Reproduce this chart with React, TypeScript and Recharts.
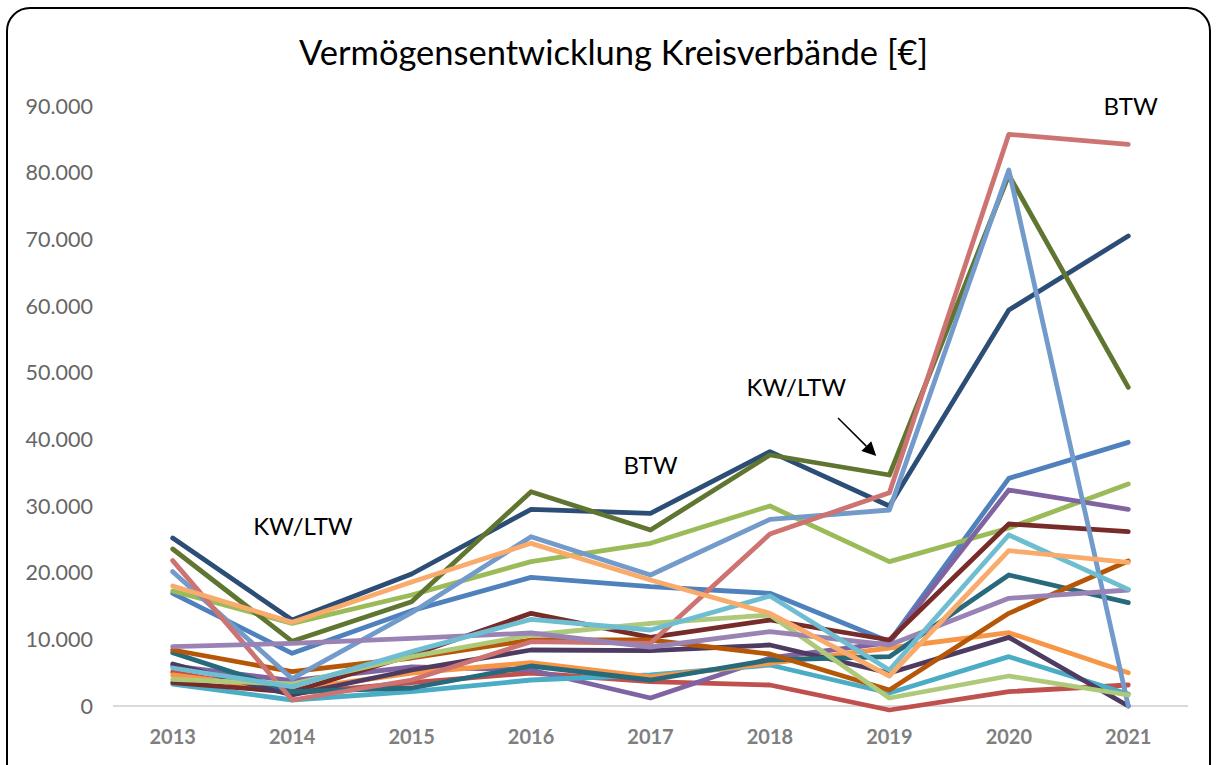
import React from "react";
import { LineChart, Line, XAxis, YAxis, ReferenceLine, ReferenceDot } from "recharts";

const years = [2013, 2014, 2015, 2016, 2017, 2018, 2019, 2020, 2021];
const yTicks = [0, 10000, 20000, 30000, 40000, 50000, 60000, 70000, 80000, 90000];

const s01 = [16900, 7900, 14300, 19300, 17900, 16900, 9650, 34150, 39550];
const s02 = [5100, 1900, 3500, 4950, 3650, 3150, -600, 2150, 3150];
const s03 = [17250, 12400, 16650, 21650, 24400, 30000, 21650, 26700, 33300];
const s04 = [6000, 3800, 5850, 5400, 1200, 7200, 9500, 32400, 29500];
const s05 = [3300, 900, 2150, 3900, 4650, 6150, 1950, 7400, 1800];
const s06 = [4650, 2400, 4950, 6500, 4350, 6400, 8700, 11000, 5000];
const s07 = [25200, 12900, 19800, 29500, 28900, 38150, 30000, 59400, 70500];
const s08 = [3500, 2100, 7650, 13900, 10300, 12900, 9900, 27300, 26150];
const s09 = [23550, 9700, 15650, 32150, 26400, 37650, 34650, 79650, 47800];
const s10 = [6300, 1650, 5400, 8400, 8300, 9150, 4950, 10300, 0];
const s11 = [8000, 2150, 2700, 6000, 3900, 6900, 7400, 19650, 15500];
const s12 = [8400, 5150, 7200, 9900, 9900, 7800, 2400, 13900, 21750];
const s13 = [20150, 4100, 14000, 25400, 19650, 28000, 29400, 80400, 0];
const s14 = [21800, 900, 3900, 9650, 9400, 25800, 32000, 85750, 84250];
const s15 = [4000, 3300, 7400, 10650, 12400, 13650, 1200, 4500, 1650];
const s16 = [8900, 9400, 10150, 10950, 8850, 11150, 9150, 16150, 17400];
const s17 = [5700, 2900, 8150, 13000, 11400, 16500, 5400, 25650, 17500];
const s18 = [18000, 12550, 18600, 24400, 18900, 13900, 4500, 23300, 21550];

const seriesValues = [s01, s02, s03, s04, s05, s06, s07, s08, s09, s10, s11, s12, s13, s14, s15, s16, s17, s18];
const seriesColors = [
  "#4F81BD", "#C0504D", "#9BBB59", "#8064A2", "#4BACC6", "#F79646",
  "#2C4D75", "#772C2A", "#5F7530", "#4D3B62", "#276A7C", "#B65708",
  "#729ACA", "#CD7371", "#AFC97A", "#9983B5", "#6FBDD1", "#F9AB6B",
];

const annotations = [
  { x: 2014.09, y: 27150, text: "KW/LTW" },
  { x: 2017.0, y: 36300, text: "BTW" },
  { x: 2018.22, y: 48000, text: "KW/LTW" },
  { x: 2021.02, y: 90150, text: "BTW" },
];
const arrowFrom = { x: 2018.57, y: 43200 };
const arrowTo = { x: 2018.89, y: 37500 };

const data = years.map((yr, i) => {
  const row: Record<string, number> = { year: yr };
  seriesValues.forEach((s, k) => {
    row["s" + k] = s[i];
  });
  return row;
});

const fmt = (v: number) => {
  if (v === 0) return "0";
  const s = String(Math.round(v));
  return s.replace(/\B(?=(\d{3})+(?!\d))/g, ".");
};

const FONT = "Lato, 'Open Sans', sans-serif";

const ArrowShape = (props: any) => {
  const { x1, y1, x2, y2 } = props;
  if ([x1, y1, x2, y2].some((v) => typeof v !== "number" || isNaN(v))) return null;
  const ang = Math.atan2(y2 - y1, x2 - x1);
  const L = 14;
  const W = 7;
  const bx = x2 - L * Math.cos(ang);
  const by = y2 - L * Math.sin(ang);
  const px = -Math.sin(ang) * W;
  const py = Math.cos(ang) * W;
  return (
    <g>
      <line x1={x1} y1={y1} x2={bx} y2={by} stroke="#000" strokeWidth={1.5} />
      <polygon points={`${x2},${y2} ${bx + px},${by + py} ${bx - px},${by - py}`} fill="#000" />
    </g>
  );
};

const AnnLabel = (text: string) => (props: any) => {
  const vb = props.viewBox || {};
  const cx = (vb.x ?? 0) + (vb.width ?? 0) / 2;
  const cy = (vb.y ?? 0) + (vb.height ?? 0) / 2;
  return (
    <text x={cx} y={cy} textAnchor="middle" dominantBaseline="central" fontFamily={FONT} fontSize={24} fill="#000">
      {text}
    </text>
  );
};

export default function App() {
  return (
    <div style={{ position: "absolute", left: 0, top: 0, width: 1217, height: 765, overflow: "hidden", background: "#fff" }}>
      <div
        style={{
          position: "absolute",
          left: 6,
          top: 7,
          width: 1205,
          height: 820,
          boxSizing: "border-box",
          border: "2px solid #000",
          borderRadius: 24,
        }}
      />
      <div
        style={{
          position: "absolute",
          left: 0,
          top: 32,
          width: 1227,
          textAlign: "center",
          fontFamily: FONT,
          fontSize: 34.5,
          color: "#000",
          lineHeight: "40px",
        }}
      >
        Vermögensentwicklung Kreisverbände [€]
      </div>
      <div style={{ position: "absolute", left: 0, top: 0 }}>
        <LineChart width={1217} height={765} data={data} margin={{ top: 106, right: 29, bottom: 19, left: 13 }}>
          <XAxis
            dataKey="year"
            type="number"
            domain={[2012.5, 2021.5]}
            ticks={years}
            axisLine={false}
            tickLine={false}
            tickSize={0}
            tickMargin={14}
            height={30}
            tick={{ fill: "#7f7f7f", fontSize: 20, fontWeight: 700, fontFamily: FONT }}
            allowDataOverflow
          />
          <YAxis
            type="number"
            domain={[-1500, 90000]}
            ticks={yTicks}
            interval={0}
            axisLine={false}
            tickLine={false}
            tickSize={0}
            tickMargin={20}
            width={100}
            tickFormatter={fmt}
            tick={{ fill: "#666666", fontSize: 21.5, fontFamily: FONT }}
            allowDataOverflow
          />
          <ReferenceLine y={0} stroke="#d9d9d9" strokeWidth={2} ifOverflow="extendDomain" />
          {seriesValues.map((_, k) => (
            <Line
              key={k}
              dataKey={"s" + k}
              stroke={seriesColors[k]}
              strokeWidth={4.8}
              strokeLinecap="round"
              strokeLinejoin="round"
              dot={false}
              activeDot={false}
              isAnimationActive={false}
            />
          ))}
          {annotations.map((a, i) => (
            <ReferenceDot key={i} x={a.x} y={a.y} r={0} fill="none" stroke="none" label={AnnLabel(a.text)} ifOverflow="visible" />
          ))}
          <ReferenceLine
            segment={[arrowFrom, arrowTo]}
            shape={ArrowShape}
            ifOverflow="visible"
          />
        </LineChart>
      </div>
    </div>
  );
}
